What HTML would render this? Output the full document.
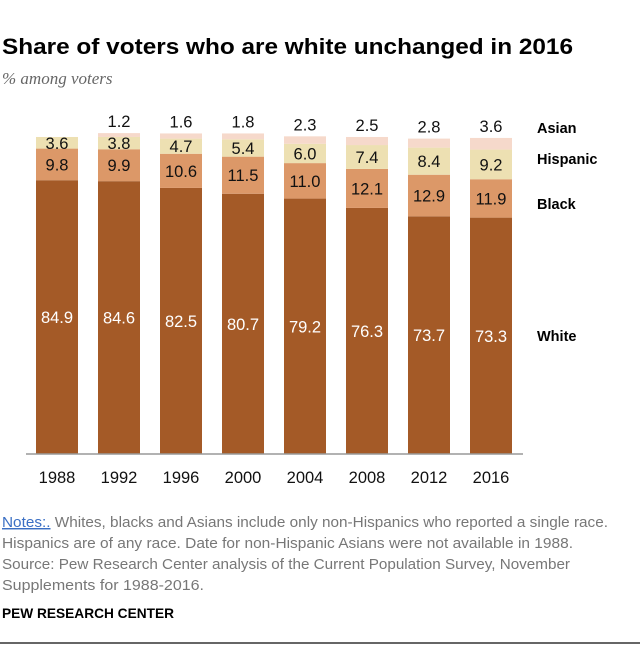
<!DOCTYPE html>
<html><head><meta charset="utf-8"><style>
body{margin:0;background:#fff;width:640px;height:658px;overflow:hidden;font-family:"Liberation Sans",sans-serif}
</style></head><body>
<svg width="640" height="658" xmlns="http://www.w3.org/2000/svg">
<text x="2" y="54" font-size="22" font-weight="bold" fill="#000" textLength="571" lengthAdjust="spacingAndGlyphs">Share of voters who are white unchanged in 2016</text>
<text x="2" y="84" font-size="17" font-style="italic" fill="#666" font-family="Liberation Serif, serif">% among voters</text>
<g id="bars"></g>
<line x1="26" y1="454" x2="523" y2="454" stroke="#999" stroke-width="1.5"/>
<g font-size="14.5" font-weight="bold" fill="#000">
<text x="537" y="133">Asian</text>
<text x="537" y="164">Hispanic</text>
<text x="537" y="209">Black</text>
<text x="537" y="341">White</text>
</g>
<g font-size="14.5" fill="#777">
<text x="2" y="527" textLength="606" lengthAdjust="spacingAndGlyphs"><tspan fill="#3a6fc4" text-decoration="underline">Notes:.</tspan> Whites, blacks and Asians include only non-Hispanics who reported a single race.</text>
<text x="2" y="548" textLength="571" lengthAdjust="spacingAndGlyphs">Hispanics are of any race. Date for non-Hispanic Asians were not available in 1988.</text>
<text x="2" y="569" textLength="568" lengthAdjust="spacingAndGlyphs">Source: Pew Research Center analysis of the Current Population Survey, November</text>
<text x="2" y="590" textLength="202" lengthAdjust="spacingAndGlyphs">Supplements for 1988-2016.</text>
</g>
<text x="2" y="618" font-size="14" font-weight="bold" fill="#000" textLength="172" lengthAdjust="spacingAndGlyphs">PEW RESEARCH CENTER</text>
<line x1="0" y1="643" x2="640" y2="643" stroke="#333" stroke-width="1.5"/>
</svg>
<script>
const years=["1988","1992","1996","2000","2004","2008","2012","2016"];
const white=[84.9,84.6,82.5,80.7,79.2,76.3,73.7,73.3];
const black=[9.8,9.9,10.6,11.5,11.0,12.1,12.9,11.9];
const hispanic=[3.6,3.8,4.7,5.4,6.0,7.4,8.4,9.2];
const asian=[null,1.2,1.6,1.8,2.3,2.5,2.8,3.6];
const NS="http://www.w3.org/2000/svg";
const base=454,k=3.225,x0=36,pitch=62,bw=42;
const y=v=>base-v*k;
const g=document.getElementById('bars');
function mk(tag,attrs){const e=document.createElementNS(NS,tag);for(const a in attrs)e.setAttribute(a,attrs[a]);g.appendChild(e);return e;}
years.forEach((yr,i)=>{
  const x=x0+i*pitch,cx=x+bw/2;
  const segs=[[white[i],'#a45a27','#fff','white'],[black[i],'#dc9868','#111','black'],[hispanic[i],'#ede0b2','#111','hispanic'],[asian[i],'#f6d9cb','#111','asian']];
  let cum=0;
  segs.forEach(s=>{
    if(s[0]==null)return;
    const r=mk('rect',{x:x,y:y(cum+s[0]),width:bw,height:s[0]*k,fill:s[1]});
    
    
    const t=mk('text',{x:cx,'text-anchor':'middle','font-size':'16.5',fill:s[2]});
    if(s[3]==='asian'){t.setAttribute('y',y(cum+s[0])-6);}
    else t.setAttribute('y',y(cum+s[0]/2)+6);
    t.textContent=s[0].toFixed(1);
    
    
    cum+=s[0];
  });
  const yl=mk('text',{x:cx,y:483,'text-anchor':'middle','font-size':'16.5',fill:'#111'});
  yl.textContent=yr;
  
  
});
</script>
</body></html>
